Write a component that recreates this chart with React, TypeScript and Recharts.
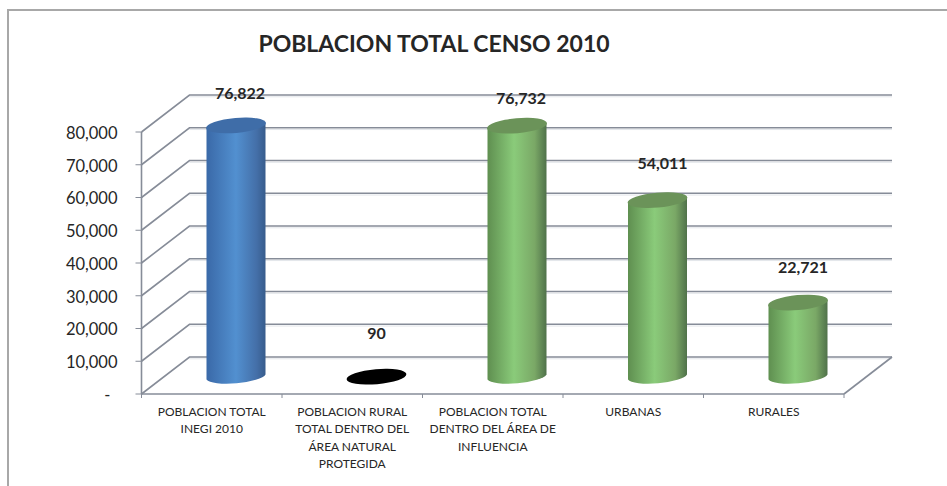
import React from 'react';
import { BarChart, Bar, XAxis, YAxis, CartesianGrid, LabelList } from 'recharts';

const categories = [
    'POBLACION TOTAL INEGI 2010',
    'POBLACION RURAL TOTAL DENTRO DEL ÁREA NATURAL PROTEGIDA',
    'POBLACION TOTAL DENTRO DEL ÁREA DE INFLUENCIA',
    'URBANAS',
    'RURALES',
];
const categoryLines = [
    ['POBLACION TOTAL', 'INEGI 2010'],
    ['POBLACION RURAL', 'TOTAL DENTRO DEL', 'ÁREA NATURAL', 'PROTEGIDA'],
    ['POBLACION TOTAL', 'DENTRO DEL ÁREA DE', 'INFLUENCIA'],
    ['URBANAS'],
    ['RURALES'],
];
const population = [76822, 90, 76732, 54011, 22721];
const yTicks = [0, 10000, 20000, 30000, 40000, 50000, 60000, 70000, 80000];

// label positions were nudged by hand in the original sheet
const labelDx = [28, 24, 28, 29, 29];
const labelDy = [-49, -60, -44, -54, -52];

const FONT = 'Lato, sans-serif';
const GRID = '#868c98';
const TEXT = '#262626';
const DEPTH_X = 48;
const DEPTH_Y = 37;
const RX = 30;
const RY = 7.5;
const TILT = -5;

const tables = categories.map((name, i) => ({ name, value: population[i] }));

const paints = [
    { id: 'cylBlue', top: '#3f6da8' },
    { id: 'cylBlack', top: '#000000' },
    { id: 'cylGreen', top: '#6b9359' },
    { id: 'cylGreen', top: '#6b9359' },
    { id: 'cylGreen', top: '#6b9359' },
];

function Cylinder(props: any) {
    const { x, y, width, height, index } = props;
    const paint = paints[index];
    const cx = x + width / 2 + 24;
    const yTop = y - DEPTH_Y / 2 + 1.5;
    const yBase = y + height - DEPTH_Y / 2 + 1.5;
    const left = cx - width / 2;
    const right = cx + width / 2;
    const d = `M${left} ${yTop + 2.6} L${left} ${yBase + 2.6} A${RX} ${RY} ${TILT} 0 0 ${right} ${yBase - 2.6} L${right} ${yTop - 2.6} A${RX} ${RY} ${TILT} 0 0 ${left} ${yTop + 2.6} Z`;
    return (
        <g>
            <path d={d} fill={`url(#${paint.id})`} />
            <ellipse cx={cx} cy={yTop} rx={RX} ry={RY} fill={paint.top} transform={`rotate(${TILT} ${cx} ${yTop})`} />
        </g>
    );
}

// floor + back wall line for every y tick
function GridLine(props: any) {
    const { x1, x2, y1 } = props;
    const backY = y1 - DEPTH_Y;
    const pts = `${x1},${y1} ${x1 + DEPTH_X},${backY} ${x2 + DEPTH_X},${backY}`;
    const isFloor = y1 > 390;
    return (
        <g fill="none">
            <line x1={x1 + DEPTH_X} y1={backY + 1.8} x2={x2 + DEPTH_X} y2={backY + 1.8} stroke="#e3e6ea" strokeWidth={1} />
            <polyline points={pts} stroke={GRID} strokeWidth={1.6} />
            {isFloor && <line x1={x2 + DEPTH_X} y1={backY} x2={x2} y2={y1} stroke={GRID} strokeWidth={1.6} />}
        </g>
    );
}

function YTick(props: any) {
    const { x, y, payload } = props;
    const isZero = payload.value === 0;
    return (
        <text
            x={isZero ? x - 23 : x - 16}
            y={y + 1}
            dy="0.36em"
            textAnchor="end"
            fontFamily={FONT}
            fontSize={16.5}
            fill={TEXT}
        >
            {isZero ? '-' : payload.value.toLocaleString('en-US')}
        </text>
    );
}

function XTick(props: any) {
    const { x, y, index } = props;
    const band = 702.5 / categories.length;
    const lines = categoryLines[index];
    return (
        <g>
            <line x1={x - band / 2} y1={y - 8} x2={x - band / 2} y2={y - 4} stroke={GRID} />
            {index === categories.length - 1 && (
                <line x1={x + band / 2} y1={y - 8} x2={x + band / 2} y2={y - 4} stroke={GRID} />
            )}
            {lines.map((line: string, i: number) => (
                <text
                    key={line}
                    x={x}
                    y={y + 14 + i * 17.3}
                    textAnchor="middle"
                    fontFamily={FONT}
                    fontSize={12}
                    fill={TEXT}
                >
                    {line}
                </text>
            ))}
        </g>
    );
}

function ValueLabel(props: any) {
    const { x, y, width, value, index } = props;
    return (
        <text
            x={x + width / 2 + labelDx[index]}
            y={y + labelDy[index]}
            dy="0.36em"
            textAnchor="middle"
            fontFamily={FONT}
            fontSize={16}
            fontWeight={700}
            fill={TEXT}
        >
            {Number(value).toLocaleString('en-US')}
        </text>
    );
}

export default function App() {
    return (
        <div style={{ position: 'absolute', left: 0, top: 0, width: 947, height: 486, overflow: 'hidden', background: '#fff' }}>
            <div
                style={{
                    position: 'absolute',
                    left: 7,
                    top: 9,
                    right: 0,
                    bottom: 0,
                    borderLeft: '2px solid #a8a8a8',
                    borderTop: '2px solid #a8a8a8',
                }}
            />
            <div
                style={{
                    position: 'absolute',
                    left: 234,
                    width: 400,
                    top: 29,
                    textAlign: 'center',
                    fontFamily: FONT,
                    fontWeight: 700,
                    fontSize: 23,
                    color: TEXT,
                }}
            >
                POBLACION TOTAL CENSO 2010
            </div>
            <div style={{ position: 'absolute', left: 0, top: 0 }}>
                <BarChart
                    width={947}
                    height={486}
                    data={tables}
                    barSize={59}
                    margin={{ top: 132, right: 103, bottom: 12, left: 41.5 }}
                >
                    <defs>
                        <linearGradient id="cylBlue" x1="0" x2="1" y1="0" y2="0">
                            <stop offset="0" stopColor="#3a69a8" />
                            <stop offset="0.5" stopColor="#5290d0" />
                            <stop offset="0.85" stopColor="#446fa8" />
                            <stop offset="1" stopColor="#375c8c" />
                        </linearGradient>
                        <linearGradient id="cylBlack" x1="0" x2="1" y1="0" y2="0">
                            <stop offset="0" stopColor="#000" />
                            <stop offset="1" stopColor="#000" />
                        </linearGradient>
                        <linearGradient id="cylGreen" x1="0" x2="1" y1="0" y2="0">
                            <stop offset="0" stopColor="#5f8f50" />
                            <stop offset="0.45" stopColor="#8acb7a" />
                            <stop offset="0.8" stopColor="#7aa866" />
                            <stop offset="1" stopColor="#50724a" />
                        </linearGradient>
                    </defs>
                    <CartesianGrid vertical={false} horizontal={(p: any) => <GridLine key={p.key} {...p} />} />
                    <XAxis
                        dataKey="name"
                        interval={0}
                        height={80}
                        axisLine={{ stroke: GRID, strokeWidth: 1.6 }}
                        tickLine={false}
                        tick={(p: any) => <XTick {...p} />}
                    />
                    <YAxis
                        width={100}
                        domain={[0, 80000]}
                        ticks={yTicks}
                        interval={0}
                        axisLine={{ stroke: GRID, strokeWidth: 1.6 }}
                        tickLine={{ stroke: GRID }}
                        tickSize={6}
                        tick={(p: any) => <YTick {...p} />}
                    />
                    <Bar dataKey="value" isAnimationActive={false} shape={(p: any) => <Cylinder {...p} />}>
                        <LabelList dataKey="value" content={(p: any) => <ValueLabel {...p} />} />
                    </Bar>
                </BarChart>
            </div>
        </div>
    );
}
